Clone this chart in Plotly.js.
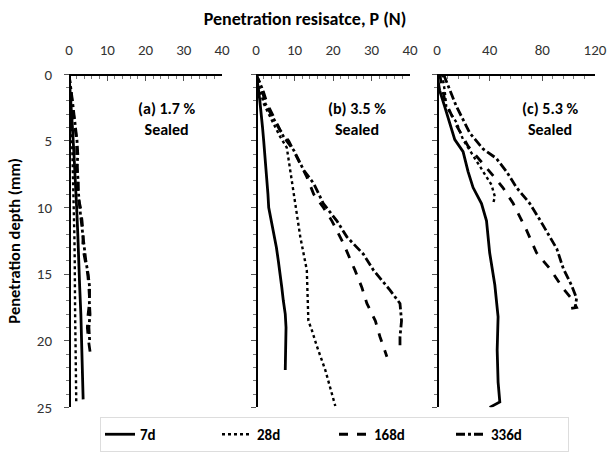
<!DOCTYPE html>
<html>
<head>
<meta charset="utf-8">
<script src="https://cdn.plot.ly/plotly-3.0.1.min.js"></script>
<style>html,body{margin:0;padding:0;background:#fff;}#chart{width:607px;height:452px;}</style>
</head>
<body>
<div id="chart"></div>
<script>
// Series labels
const seriesNames = ["7d", "28d", "168d", "336d"];
const panelLabels = ["(a) 1.7 %<br>Sealed", "(b) 3.5 %<br>Sealed", "(c) 5.3 %<br>Sealed"];

// Panel (a) 1.7 %
const a7dDepth = [0, 2, 4, 6, 8, 10, 12, 14, 16, 18, 20, 22, 24.4];
const a7dP     = [0, 0.5, 0.9, 1.3, 1.7, 2.0, 2.3, 2.5, 2.8, 3.1, 3.3, 3.5, 3.7];
const a28dDepth = [0, 2, 4, 6, 8, 10, 12, 14, 16, 18, 20, 22, 24.7];
const a28dP     = [0, 0.4, 0.7, 0.9, 1.1, 1.3, 1.4, 1.5, 1.5, 1.6, 1.7, 1.8, 1.9];
const a168dDepth = [0, 1, 2, 3, 4, 5, 6, 7, 8, 9, 10, 11, 12, 13, 14, 15, 16, 17, 18, 19, 20, 21];
const a168dP     = [0, 0.4, 0.8, 1.2, 1.5, 2.0, 2.0, 2.2, 2.3, 2.2, 3.0, 3.4, 3.7, 3.6, 4.2, 4.9, 5.2, 5.4, 5.0, 4.8, 5.1, 5.6];
const a336dDepth = [0, 1, 2, 3, 4, 5, 6, 7, 8, 9, 10, 11, 12, 13, 14, 15, 16, 17, 18, 19, 20];
const a336dP     = [0, 0.5, 0.9, 1.3, 1.7, 2.1, 2.3, 2.1, 2.4, 2.5, 2.8, 3.2, 3.5, 3.9, 4.4, 5.0, 5.4, 5.3, 5.5, 5.2, 5.4];

// Panel (b) 3.5 %
const b7dDepth = [0, 1, 2, 3, 4, 5, 6, 7, 8, 9, 10, 11, 12, 13, 14, 15, 16, 17, 18, 19, 20, 21, 22.2];
const b7dP     = [0, 0.6, 1.0, 1.4, 1.7, 2.0, 2.3, 2.6, 2.9, 3.1, 3.3, 4.0, 4.8, 5.3, 5.8, 6.3, 6.7, 7.1, 7.6, 7.8, 7.7, 7.6, 7.6];
const b28dDepth = [0, 1, 2.2, 3.5, 4.7, 5.5, 7.2, 9.7, 12.2, 14.7, 16.5, 18.5, 19.2, 20.4, 22.2, 24.9];
const b28dP     = [0, 1.0, 2.0, 4.2, 6.3, 8.0, 8.9, 10.2, 11.5, 13.2, 13.4, 13.6, 14.5, 15.8, 18.0, 20.6];
const b168dDepth = [0, 1, 2.2, 3.2, 4.2, 5, 6, 7.7, 9, 10, 11, 12.7, 14.7, 16, 17.2, 18.5, 19.7, 21.2];
const b168dP     = [0, 1.6, 2.9, 4.5, 6.3, 8.5, 10.2, 13.2, 15, 17.5, 19.7, 22.7, 25.7, 27.5, 28.8, 31, 32.2, 34];
const b336dDepth = [0, 1, 2.2, 3.5, 4.7, 5.7, 7.2, 8.2, 9.7, 11, 12.2, 13.5, 14.7, 16.2, 17.2, 18.5, 19.7, 20.4];
const b336dP     = [0, 1.5, 2.4, 4.8, 7.2, 9.8, 12.4, 15, 17.5, 21, 23.6, 27.9, 30.5, 34.8, 37.4, 37.8, 37.4, 37.4];

// Panel (c) 5.3 %
const c7dDepth = [0, 1.2, 2.4, 3.6, 4.9, 5.8, 7.3, 8.5, 9.7, 11, 13.4, 15.8, 18.2, 20.7, 23.1, 24.6, 25];
const c7dP     = [0, 2, 5.8, 9.6, 13.5, 19.8, 23.6, 27.4, 33.8, 37.6, 40, 43.9, 46.4, 45.7, 46.4, 47.7, 40];
const c28dDepth = [0, 1.2, 2.4, 3.6, 4.9, 6.1, 7.3, 8.3, 9.2, 9.7];
const c28dP     = [4, 5.8, 7, 14.7, 19.8, 27.4, 35, 41.4, 44, 42.6];
const c168dDepth = [0, 1.9, 3.6, 5.4, 7.3, 8.5, 9.7, 11.7, 13.4, 14.6, 16.1, 17, 17.5, 17.6];
const c168dP     = [2, 5.8, 13.5, 23.6, 40, 50, 57.9, 68, 75.6, 85.8, 96, 103.5, 106, 100];
const c336dDepth = [0, 2.4, 4.4, 5.6, 6.3, 7.3, 8.5, 9.7, 10.9, 12.2, 13.1, 14.6, 15.8, 16.8, 17.5];
const c336dP     = [5, 14.7, 24.9, 35, 45, 52.8, 60.4, 70.5, 78, 85.8, 91, 96, 102, 106, 105];

const xTickA = [0, 10, 20, 30, 40];
const xTickC = [0, 40, 80, 120];
const yTicks = [0, 5, 10, 15, 20, 25];

const dashes = ["solid", "dot", "dash", "dashdot"];
const widths = [2.8, 2.4, 2.8, 2.8];
const panels = [
  {xa: "x", ya: "y", data: [[a7dP, a7dDepth], [a28dP, a28dDepth], [a168dP, a168dDepth], [a336dP, a336dDepth]]},
  {xa: "x2", ya: "y2", data: [[b7dP, b7dDepth], [b28dP, b28dDepth], [b168dP, b168dDepth], [b336dP, b336dDepth]]},
  {xa: "x3", ya: "y3", data: [[c7dP, c7dDepth], [c28dP, c28dDepth], [c168dP, c168dDepth], [c336dP, c336dDepth]]}
];

const traces = [];
panels.forEach((p, pi) => {
  p.data.forEach((d, si) => {
    traces.push({
      type: "scatter", mode: "lines",
      x: d[0], y: d[1], xaxis: p.xa, yaxis: p.ya,
      name: seriesNames[si], legendgroup: seriesNames[si], showlegend: pi === 0,
      line: {color: "#000", width: widths[si], dash: dashes[si]},
      hoverinfo: "skip"
    });
  });
});

const FONT = "Carlito, Lato, 'Liberation Sans', sans-serif";
const W = 607, H = 452;
const yTop = 1 - 75 / H, yBot = 1 - 411 / H;

function xAxis(range, minorDtick, domain, vals) {
  return {
    domain: domain, range: range, side: "top", anchor: "free", position: yTop,
    tickvals: vals, ticktext: vals.map(String),
    ticks: "inside", ticklen: 5, tickwidth: 1, tickcolor: "#555",
    minor: {dtick: minorDtick, tick0: 0, ticks: "inside", ticklen: 3, tickcolor: "#777", showgrid: false},
    showline: true, linecolor: "#000", linewidth: 1.5, mirror: true,
    showgrid: false, zeroline: false, ticklabelstandoff: 13,
    tickfont: {family: FONT, size: 15, color: "#333"}, fixedrange: true
  };
}
function yAxis(domainX0, showLabels) {
  return {
    domain: [yBot, yTop], range: [25, 0], anchor: "free", position: domainX0,
    tickvals: yTicks, ticktext: yTicks.map(String), showticklabels: showLabels,
    ticks: "outside", ticklen: 5, tickwidth: 1, tickcolor: "#555",
    minor: {dtick: 1, tick0: 0, ticks: "outside", ticklen: 3, tickcolor: "#777", showgrid: false},
    showline: true, linecolor: "#000", linewidth: 1.5, mirror: true,
    showgrid: false, zeroline: false, ticklabelstandoff: 9,
    tickfont: {family: FONT, size: 15, color: "#333"}, fixedrange: true
  };
}

const dA = [69 / W, 222 / W], dB = [256 / W, 410 / W], dC = [437 / W, 595 / W];

const layout = {
  width: W, height: H, autosize: false,
  margin: {l: 0, r: 0, t: 0, b: 0},
  paper_bgcolor: "#fff", plot_bgcolor: "#fff",
  font: {family: FONT, color: "#000"},
  title: {text: "<b>Penetration resisatce, P (N)</b>", x: 305 / W, xanchor: "center", y: 1 - 19 / H, yanchor: "middle",
          font: {family: FONT, size: 18, color: "#000"}},
  xaxis: xAxis([0, 40], 2, dA, xTickA),
  xaxis2: xAxis([0, 40], 2, dB, xTickA),
  xaxis3: xAxis([0, 120], 8, dC, xTickC),
  yaxis: Object.assign(yAxis(dA[0], true), {title: {text: "<b>Penetration depth (mm)</b>", standoff: 10, font: {family: FONT, size: 16.5, color: "#000"}}}),
  yaxis2: yAxis(dB[0], false),
  yaxis3: yAxis(dC[0], false),
  showlegend: true,
  legend: {orientation: "h", x: 100 / W, y: 1 - 421 / H, xanchor: "left", yanchor: "top",
           entrywidth: 72, entrywidthmode: "pixels", itemwidth: 30,
           font: {family: FONT, size: 15, color: "#000", weight: "bold"},
           bordercolor: "#ddd", borderwidth: 1, bgcolor: "#fff"},
  annotations: panelLabels.map((t, i) => ({
    text: "<b>" + t + "</b>", xref: "paper", yref: "paper",
    x: [167, 357, 550][i] / W, y: 1 - 120 / H, xanchor: "center", yanchor: "middle",
    showarrow: false, align: "center",
    font: {family: FONT, size: 16, color: "#000"}
  }))
};

Plotly.newPlot("chart", traces, layout, {displayModeBar: false, staticPlot: true});
</script>
</body>
</html>
